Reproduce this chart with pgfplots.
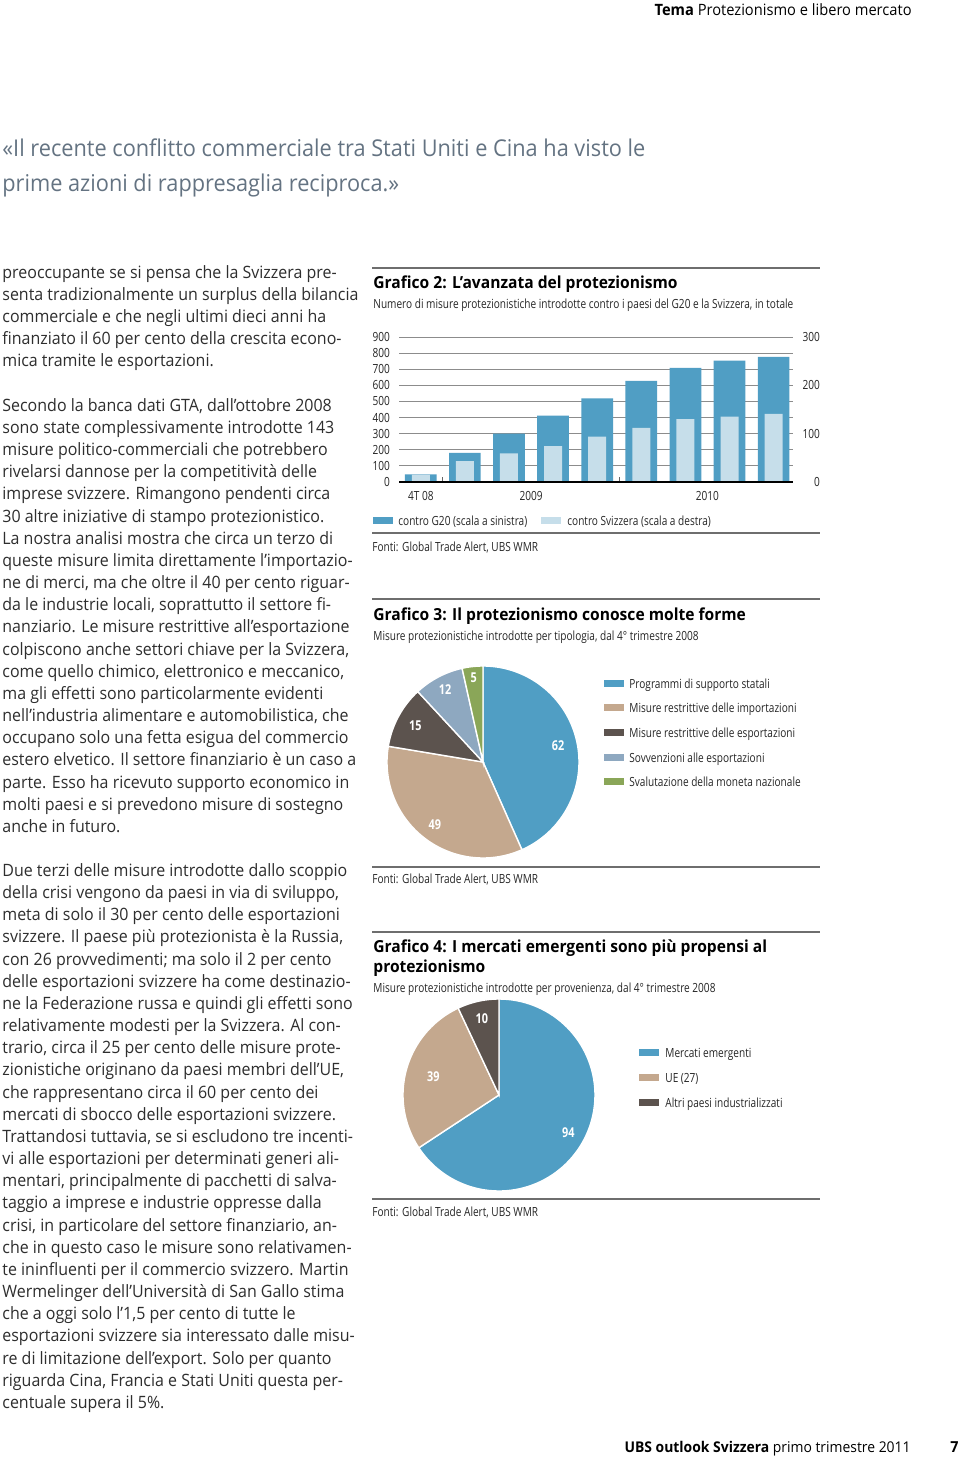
\documentclass[border=0pt]{standalone}
\usepackage{fontspec}
\setmainfont{Open Sans}[FakeStretch=0.94]
\newfontfamily\cond{Open Sans}[FakeStretch=0.80]
\usepackage{pgfplots}
\usepackage{pgfplotstable}
\pgfplotsset{compat=1.18}
\definecolor{cblue}{RGB}{80,158,196}
\definecolor{clight}{RGB}{198,222,234}
\definecolor{cbeige}{RGB}{196,168,142}
\definecolor{cdark}{RGB}{92,83,78}
\definecolor{csteel}{RGB}{142,168,192}
\definecolor{cgreen}{RGB}{138,166,88}
\definecolor{qgray}{RGB}{100,115,130}
\definecolor{rule}{RGB}{110,110,110}
\newcommand\body{\fontsize{8.5}{10}\selectfont}
\newcommand\sm{\cond\fontsize{6.3}{7.5}\selectfont}
\newcommand\ttl{\bfseries\fontsize{8.3}{9.5}\selectfont}
\newcommand\pl{\cond\bfseries\fontsize{6.8}{8}\selectfont}
\newcommand\bla[2]{\node[anchor=mid west,inner sep=0pt,font=\body,text=black!82] at (2,{273+22.16*#1}) {#2};}
\newcommand\blb[2]{\node[anchor=mid west,inner sep=0pt,font=\body,text=black!82] at (2,{871+22.167*#1}) {#2};}
\newcommand\tx[3]{\node[anchor=mid west,inner sep=0pt,font=\sm,text=black!85] at (#1,#2) {#3};}
\newcommand\slice[4]{\addplot[fill=#4,draw=white,line width=0.7pt,domain={90-#2/#3*360}:{90-#1/#3*360},samples=90] ({cos(x)},{sin(x)}) -- (axis cs:0,0) -- cycle;}
\newcommand\plab[5]{\node[font=\pl,text=white] at (axis cs:{#4*cos(90-(#1+#2)/2/#3*360)},{#4*sin(90-(#1+#2)/2/#3*360)}) {#5};}

\pgfplotstableread{
x g20 svi
0 48 15
1 180 43
2 300 59
3 412 74
4 519 94
5 627 112
6 708 130
7 753 135
8 776 141
}\protdata

\begin{document}
\begin{tikzpicture}
\fill[white] (0,0) rectangle (480pt,-729.5pt);
\path[use as bounding box] (0,0) rectangle (480pt,-729.5pt);
\begin{scope}[x=0.5pt,y=-0.5pt]
% header / footer
\node[anchor=mid east,inner sep=0pt,font=\fontsize{7.8}{9}\selectfont] at (912,10) {\textbf{Tema} Protezionismo e libero mercato};
\node[anchor=mid east,inner sep=0pt,font=\fontsize{7.4}{9}\selectfont] at (911,1447) {\textbf{UBS outlook Svizzera} primo trimestre 2011};
\node[anchor=mid east,inner sep=0pt,font=\bfseries\fontsize{7.6}{9}\selectfont] at (959,1447) {7};
% quote
\node[anchor=mid west,inner sep=0pt,font=\fontsize{11.56}{14}\selectfont,text=qgray] at (2,151) {«Il recente conflitto commerciale tra Stati Uniti e Cina ha visto le};
\node[anchor=mid west,inner sep=0pt,font=\fontsize{11.56}{14}\selectfont,text=qgray] at (2,186) {prime azioni di rappresaglia reciproca.»};
% body block 1
\bla{0}{preoccupante se si pensa che la Svizzera pre-}
\bla{1}{senta tradizionalmente un surplus della bilancia}
\bla{2}{commerciale e che negli ultimi dieci anni ha}
\bla{3}{finanziato il 60 per cento della crescita econo-}
\bla{4}{mica tramite le esportazioni.}
\bla{6}{Secondo la banca dati GTA, dall’ottobre 2008}
\bla{7}{sono state complessivamente introdotte 143}
\bla{8}{misure politico-commerciali che potrebbero}
\bla{9}{rivelarsi dannose per la competitività delle}
\bla{10}{imprese svizzere. Rimangono pendenti circa}
\bla{11}{30 altre iniziative di stampo protezionistico.}
\bla{12}{La nostra analisi mostra che circa un terzo di}
\bla{13}{queste misure limita direttamente l’importazio-}
\bla{14}{ne di merci, ma che oltre il 40 per cento riguar-}
\bla{15}{da le industrie locali, soprattutto il settore fi-}
\bla{16}{nanziario. Le misure restrittive all'esportazione}
\bla{17}{colpiscono anche settori chiave per la Svizzera,}
\bla{18}{come quello chimico, elettronico e meccanico,}
\bla{19}{ma gli effetti sono particolarmente evidenti}
\bla{20}{nell’industria alimentare e automobilistica, che}
\bla{21}{occupano solo una fetta esigua del commercio}
\bla{22}{estero elvetico. Il settore finanziario è un caso a}
\bla{23}{parte. Esso ha ricevuto supporto economico in}
\bla{24}{molti paesi e si prevedono misure di sostegno}
\bla{25}{anche in futuro.}
% body block 2
\blb{0}{Due terzi delle misure introdotte dallo scoppio}
\blb{1}{della crisi vengono da paesi in via di sviluppo,}
\blb{2}{meta di solo il 30 per cento delle esportazioni}
\blb{3}{svizzere. Il paese più protezionista è la Russia,}
\blb{4}{con 26 provvedimenti; ma solo il 2 per cento}
\blb{5}{delle esportazioni svizzere ha come destinazio-}
\blb{6}{ne la Federazione russa e quindi gli effetti sono}
\blb{7}{relativamente modesti per la Svizzera. Al con-}
\blb{8}{trario, circa il 25 per cento delle misure prote-}
\blb{9}{zionistiche originano da paesi membri dell’UE,}
\blb{10}{che rappresentano circa il 60 per cento dei}
\blb{11}{mercati di sbocco delle esportazioni svizzere.}
\blb{12}{Trattandosi tuttavia, se si escludono tre incenti-}
\blb{13}{vi alle esportazioni per determinati generi ali-}
\blb{14}{mentari, principalmente di pacchetti di salva-}
\blb{15}{taggio a imprese e industrie oppresse dalla}
\blb{16}{crisi, in particolare del settore finanziario, an-}
\blb{17}{che in questo caso le misure sono relativamen-}
\blb{18}{te ininfluenti per il commercio svizzero. Martin}
\blb{19}{Wermelinger dell’Università di San Gallo stima}
\blb{20}{che a oggi solo l’1,5 per cento di tutte le}
\blb{21}{esportazioni svizzere sia interessato dalle misu-}
\blb{22}{re di limitazione dell’export. Solo per quanto}
\blb{23}{riguarda Cina, Francia e Stati Uniti questa per-}
\blb{24}{centuale supera il 5\%.}
% chart 2 frame
\draw[rule,line width=1pt] (372,268) -- (820,268);
\draw[rule,line width=1pt] (372,533) -- (820,533);
\node[anchor=mid west,inner sep=0pt,font=\ttl] at (373,283) {Grafico 2: L'avanzata del protezionismo};
\tx{373}{303}{Numero di misure protezionistiche introdotte contro i paesi del G20 e la Svizzera, in totale}
\fill[cblue] (373,517) rectangle (393,524);
\tx{398}{520}{contro G20 (scala a sinistra)}
\fill[clight] (541,517) rectangle (561,524);
\tx{567}{520}{contro Svizzera (scala a destra)}
\tx{372}{546}{Fonti: Global Trade Alert, UBS WMR}
% chart 3 frame
\draw[rule,line width=1pt] (372,599) -- (820,599);
\draw[rule,line width=1pt] (372,867) -- (820,867);
\node[anchor=mid west,inner sep=0pt,font=\ttl] at (373,615) {Grafico 3: Il protezionismo conosce molte forme};
\tx{373}{635}{Misure protezionistiche introdotte per tipologia, dal 4° trimestre 2008}
\fill[cblue] (604,680) rectangle (624,687);   \tx{629}{683}{Programmi di supporto statali}
\fill[cbeige] (604,704) rectangle (624,711);  \tx{629}{707}{Misure restrittive delle importazioni}
\fill[cdark] (604,729) rectangle (624,736);   \tx{629}{732}{Misure restrittive delle esportazioni}
\fill[csteel] (604,754) rectangle (624,761);  \tx{629}{757}{Sovvenzioni alle esportazioni}
\fill[cgreen] (604,778) rectangle (624,785);  \tx{629}{781}{Svalutazione della moneta nazionale}
\tx{372}{878}{Fonti: Global Trade Alert, UBS WMR}
% chart 4 frame
\draw[rule,line width=1pt] (372,932) -- (820,932);
\draw[rule,line width=1pt] (372,1199) -- (820,1199);
\node[anchor=mid west,inner sep=0pt,font=\ttl] at (373,947) {Grafico 4: I mercati emergenti sono più propensi al};
\node[anchor=mid west,inner sep=0pt,font=\ttl] at (373,967) {protezionismo};
\tx{373}{987}{Misure protezionistiche introdotte per provenienza, dal 4° trimestre 2008}
\fill[cblue] (639,1049) rectangle (659,1056);  \tx{665}{1052}{Mercati emergenti}
\fill[cbeige] (639,1074) rectangle (659,1081); \tx{665}{1077}{UE (27)}
\fill[cdark] (639,1099) rectangle (659,1106);  \tx{665}{1102}{Altri paesi industrializzati}
\tx{372}{1211}{Fonti: Global Trade Alert, UBS WMR}
\end{scope}

% ---------- Grafico 2: bars, left scale ----------
\begin{axis}[at={(199.5pt,-241pt)},anchor=south west,scale only axis,
  width=197pt,height=72.5pt,
  xmin=-0.494,xmax=8.44,ymin=0,ymax=900,
  ytick={0,100,...,900},xtick=\empty,
  ymajorgrids,grid style={black!45,line width=0.5pt},
  axis line style={draw=none},major tick length=0pt,
  tick label style={font=\sm,text=black!85},
  /pgf/number format/assume math mode=true,
  yticklabel style={xshift=-1pt},
  clip=false]
\addplot[ybar,bar width=15.85pt,bar shift=0pt,fill=cblue,draw=none] table[x=x,y=g20]{\protdata};
\end{axis}
% ---------- right scale ----------
\begin{axis}[at={(199.5pt,-241pt)},anchor=south west,scale only axis,
  width=197pt,height=72.5pt,
  xmin=-0.494,xmax=8.44,ymin=0,ymax=300,
  ytick={0,100,200,300},yticklabel pos=right,
  xtick={0.5,4.5},xticklabels={},xtick pos=lower,
  tick align=inside,
  ytick style={draw=none},
  xtick style={black!60,line width=0.6pt},
  major tick length=2.5pt,
  axis line style={draw=none},
  tick label style={font=\sm,text=black!85},
  /pgf/number format/assume math mode=true,
  yticklabel style={anchor=east,xshift=17pt},
  clip=false]
\addplot[ybar,bar width=9pt,bar shift=0pt,fill=clight,draw=none] table[x=x,y=svi]{\protdata};
\draw[black,line width=1.1pt] (rel axis cs:0,0) -- (rel axis cs:1,0);
\node[font=\sm,text=black!85] at (axis cs:0,0) [yshift=-7.2pt] {4T 08};
\node[font=\sm,text=black!85] at (axis cs:2.5,0) [yshift=-7.2pt] {2009};
\node[font=\sm,text=black!85] at (axis cs:6.5,0) [yshift=-7.2pt] {2010};
\end{axis}

% ---------- Grafico 3: pie ----------
\begin{axis}[at={(241.5pt,-381pt)},anchor=center,scale only axis,
  width=96pt,height=96pt,hide axis,xmin=-1,xmax=1,ymin=-1,ymax=1,clip=false]
\slice{0}{62}{143}{cblue}
\slice{62}{111}{143}{cbeige}
\slice{111}{126}{143}{cdark}
\slice{126}{138}{143}{csteel}
\slice{138}{143}{143}{cgreen}
\plab{0}{62}{143}{0.8}{62}
\plab{62}{111}{143}{0.82}{49}
\plab{111}{126}{143}{0.8}{15}
\plab{126}{138}{143}{0.85}{12}
\plab{138}{143}{143}{0.88}{5}
\end{axis}

% ---------- Grafico 4: pie ----------
\begin{axis}[at={(249.5pt,-547.5pt)},anchor=center,scale only axis,
  width=96pt,height=96pt,hide axis,xmin=-1,xmax=1,ymin=-1,ymax=1,clip=false]
\slice{0}{94}{143}{cblue}
\slice{94}{133}{143}{cbeige}
\slice{133}{143}{143}{cdark}
\plab{0}{94}{143}{0.82}{94}
\plab{94}{133}{143}{0.71}{39}
\plab{133}{143}{143}{0.82}{10}
\end{axis}
\end{tikzpicture}
\end{document}
